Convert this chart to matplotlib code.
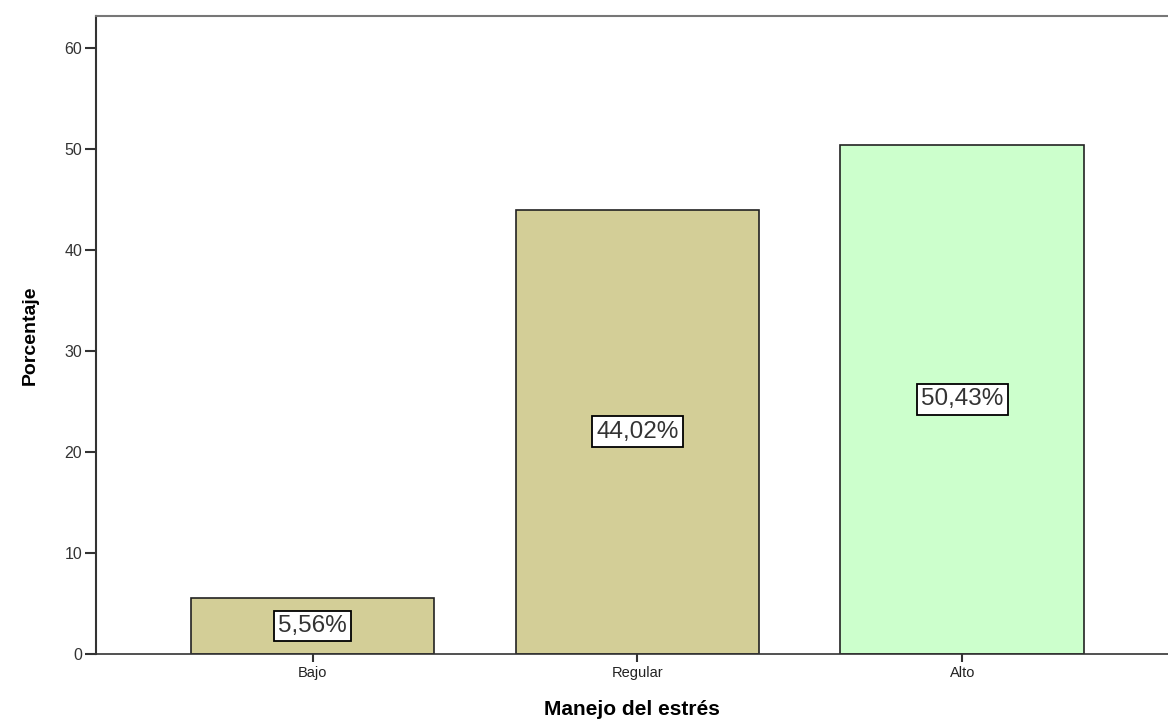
import matplotlib.pyplot as plt

categorias = ['Bajo', 'Regular', 'Alto']
porcentajes = [5.56, 44.02, 50.43]
etiquetas = ['5,56%', '44,02%', '50,43%']
colores = ['#D3CE97', '#D3CE97', '#CCFFCC']

plt.rcParams['font.family'] = ['Liberation Sans', 'DejaVu Sans']

fig = plt.figure(figsize=(11.68, 7.2), dpi=100)
ax = fig.add_axes([0.0822, 0.0917, 0.918, 0.886])

x = range(len(categorias))
barras = ax.bar(x, porcentajes, width=0.75, color=colores, edgecolor='#222222', linewidth=1.2)

# etiquetas en el centro de cada barra
for b, txt in zip(barras, etiquetas):
    ax.text(b.get_x() + b.get_width() / 2, b.get_height() / 2, txt,
            ha='center', va='center', fontsize=17.5, color='#333333',
            bbox=dict(boxstyle='square,pad=0.18', fc='white', ec='black', lw=1.3))

ax.set_xlim(-0.667, 2.634)
ax.set_ylim(0, 63.2)
ax.set_yticks([0, 10, 20, 30, 40, 50, 60])
ax.set_xticks(list(x))
ax.set_xticklabels(categorias)

ax.spines['right'].set_visible(False)
ax.spines['top'].set_color('#777777')
ax.spines['top'].set_linewidth(1.5)
ax.spines['left'].set_color('#333333')
ax.spines['left'].set_linewidth(1.5)
ax.spines['bottom'].set_color('#333333')
ax.spines['bottom'].set_linewidth(1.2)

ax.tick_params(axis='y', length=8, width=1.5, color='#333333', labelsize=11.5, labelcolor='#333333', pad=2)
ax.tick_params(axis='x', length=6, width=1.5, color='#333333', labelsize=10.5, labelcolor='#222222', pad=3)

ax.set_ylabel('Porcentaje', fontsize=14, fontweight='bold', labelpad=18)
ax.set_xlabel('Manejo del estrés', fontsize=15, fontweight='bold', labelpad=14)

fig.savefig('out.png', dpi=100)
